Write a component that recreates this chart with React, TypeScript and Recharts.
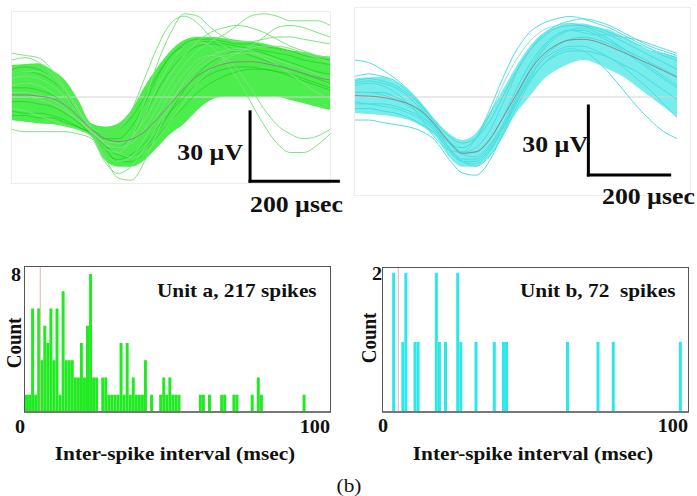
import type React from "react";
import {
  ComposedChart,
  Area,
  Line,
  XAxis,
  YAxis,
  ReferenceLine,
  BarChart,
  Bar,
} from "recharts";

const FONT = '"Liberation Serif", "Times New Roman", serif';
const STRETCH = 1.12;

// ---- spike waveforms, unit a (µV, one sample every 30 µs)
const timesA = [0, 30, 60, 90, 120, 150, 180, 210, 240, 270, 300, 330, 360, 390, 420, 450, 480, 510, 540, 570, 600, 630, 660, 690, 720];
const meanA = [0.9, 0.9, 0.4, -0.6, -3.5, -8.5, -14.0, -17.9, -19.3, -18.3, -15.0, -9.2, -2.7, 3.8, 9.1, 12.4, 14.3, 15.2, 15.3, 14.6, 13.4, 12.0, 10.3, 8.5, 7.4];
const coreLowA = [-10.0, -10.7, -11.4, -11.7, -12.8, -14.3, -17.2, -27.3, -30.2, -30.2, -27.3, -21.5, -15.7, -11.4, -5.6, -1.3, 0.1, 0.1, 0.1, 0.1, 0.1, -1.3, -2.7, -4.2, -5.6];
const coreHighA = [13.9, 14.3, 14.6, 11.7, 7.4, -1.3, -11.5, -12.8, -11.4, -5.6, 4.5, 13.1, 20.3, 24.7, 26.1, 26.1, 25.4, 24.7, 24.0, 23.2, 21.8, 20.3, 19.6, 18.2, 17.5];
// outlying single spikes (faint)
const tracesA = [
  [16, 17, 15, 10, 3, -6, -15, -22, -24, -18, -2, 15, 28, 36, 35, 30, 26, 24, 24, 25, 26, 26, 25, 24, 23],
  [8, 9, 8, 5, 0, -7, -14, -20, -22, -20, -14, -4, 6, 14, 20, 24, 27, 31, 35, 36, 35, 33, 33, 33, 31],
  [5, 6, 5, 2, -3, -9, -15, -20, -22, -18, -8, 5, 15, 22, 24, 22, 16, 8, -2, -12, -20, -24, -24, -21, -16],
  [-5, -6, -8, -10, -12, -14, -17, -26, -35, -36, -28, -15, -3, 7, 14, 18, 20, 21, 20, 18, 16, 14, 12, 10, 8],
  [19, 18, 17, 12, 4, -5, -14, -19, -20, -17, -10, 0, 10, 18, 24, 28, 30, 31, 30, 28, 25, 22, 20, 18, 17],
  [-14, -15, -15, -15, -15, -16, -18, -28, -33, -30, -22, -12, -2, 6, 12, 16, 18, 19, 19, 17, 14, 10, 6, 2, -1],
  [2, 2, 1, -1, -5, -10, -16, -24, -28, -26, -18, -8, 2, 10, 16, 18, 17, 12, 4, -5, -12, -16, -18, -17, -14],
  [10, 11, 11, 8, 2, -6, -13, -16, -14, -6, 8, 22, 32, 35, 32, 26, 22, 20, 22, 26, 30, 31, 30, 28, 26],
  [0, 0, -1, -3, -6, -10, -15, -20, -24, -26, -24, -18, -10, -2, 6, 12, 16, 19, 21, 22, 22, 21, 19, 17, 15],
];
// spikes inside the dense core
const innerA = [
  [10, 11, 10, 7, 2, -6, -14, -18, -18, -13, -3, 9, 18, 22, 24, 24, 23, 22, 21, 20, 19, 18, 16, 15, 14],
  [-6, -7, -7, -8, -10, -13, -16, -24, -27, -25, -20, -13, -6, 0, 6, 10, 12, 13, 13, 12, 11, 9, 7, 5, 3],
  [4, 4, 3, 1, -3, -9, -15, -21, -25, -26, -22, -15, -6, 3, 10, 15, 18, 20, 20, 19, 17, 15, 13, 11, 10],
  [-2, -2, -3, -4, -7, -11, -16, -22, -22, -17, -8, 3, 12, 18, 22, 23, 22, 20, 18, 16, 14, 12, 10, 8, 6],
  [12, 13, 12, 8, 2, -7, -14, -16, -14, -9, 0, 10, 18, 23, 25, 25, 24, 23, 23, 22, 21, 20, 18, 17, 16],
  [-8, -8, -9, -9, -11, -13, -16, -22, -28, -28, -24, -17, -10, -4, 2, 6, 9, 11, 12, 12, 11, 10, 8, 6, 4],
];

// ---- spike waveforms, unit b (µV, one sample every 33 µs)
const timesB = [0, 33, 66, 99, 132, 165, 198, 231, 264, 297, 330, 363, 396, 429, 462, 495, 528, 561, 594, 627, 660, 693, 726, 759, 792];
const meanB = [0.6, 0.4, -0.1, -1.3, -3.0, -6.4, -12.2, -19.4, -24.5, -23.8, -18.7, -9.3, 0.9, 11.0, 18.3, 22.6, 24.8, 25.1, 24.1, 21.9, 19.4, 16.8, 14.2, 11.4, 8.6];
const coreLowB = [-7.1, -7.4, -7.8, -8.6, -10.0, -12.8, -17.2, -25.9, -30.3, -30.3, -25.9, -17.2, -7.1, 0.1, 7.4, 11.7, 14.6, 16.1, 14.6, 11.7, 8.8, 4.5, 0.1, -4.2, -8.6];
const coreHighB = [8.1, 8.6, 8.8, 6.7, 3.0, -2.8, -10.0, -15.8, -18.7, -15.8, -7.1, 3.0, 13.2, 21.9, 27.7, 30.6, 32.0, 32.0, 30.6, 29.1, 26.2, 23.3, 20.4, 19.0, 17.5];
const tracesB = [
  [16, 15, 12, 8, 3, -4, -12, -20, -24, -22, -15, -3, 10, 20, 27, 31, 33, 34, 33, 31, 28, 25, 22, 20, 18],
  [-10, -10, -11, -12, -13, -15, -19, -27, -33, -34, -28, -16, -3, 8, 16, 20, 22, 22, 20, 17, 13, 8, 3, -3, -9],
  [2, 2, 1, -1, -4, -8, -14, -22, -28, -30, -26, -17, -5, 6, 14, 19, 21, 20, 16, 10, 3, -4, -10, -15, -18],
  [5, 6, 5, 2, -3, -10, -18, -23, -24, -18, -6, 8, 20, 28, 32, 34, 35, 34, 32, 30, 27, 24, 21, 18, 16],
  [-3, -3, -4, -5, -7, -10, -15, -22, -28, -29, -24, -14, -1, 11, 20, 26, 29, 30, 28, 25, 21, 17, 13, 9, 5],
  [9, 10, 9, 7, 2, -5, -13, -20, -25, -26, -21, -12, 0, 12, 21, 27, 29, 28, 27, 27, 26, 25, 23, 21, 19],
];
const innerB = [
  [6, 7, 6, 4, 0, -6, -13, -20, -22, -18, -8, 5, 16, 24, 29, 31, 32, 31, 29, 27, 24, 21, 18, 15, 12],
  [-5, -5, -6, -7, -9, -12, -16, -23, -28, -28, -23, -14, -3, 7, 14, 18, 20, 20, 19, 17, 14, 11, 7, 3, -1],
  [2, 2, 2, 0, -3, -7, -13, -19, -24, -24, -19, -9, 3, 14, 22, 27, 29, 29, 27, 24, 21, 18, 15, 12, 9],
  [-2, -3, -3, -4, -6, -9, -14, -22, -27, -27, -22, -13, -2, 9, 17, 22, 25, 26, 25, 23, 20, 16, 12, 8, 4],
  [7, 8, 7, 5, 1, -4, -11, -17, -20, -18, -11, 0, 11, 20, 26, 30, 31, 31, 30, 28, 26, 23, 21, 19, 17],
];

// ---- inter-spike interval histograms, 1 ms bins from 0 to 100 ms
const isiBins = Array.from({ length: 100 }, (_, i) => i);
const isiEdgeLabels = ["0", "100"];
const unitACounts = [
  1, 1, 6, 1, 6, 3, 5, 4, 6, 3,
  6, 1, 7, 3, 3, 3, 2, 2, 4, 2,
  5, 8, 2, 2, 0, 2, 2, 1, 1, 1,
  1, 4, 1, 4, 1, 2, 1, 1, 1, 3,
  0, 1, 0, 0, 1, 2, 1, 2, 1, 1,
  1, 0, 0, 0, 0, 0, 0, 1, 1, 0,
  1, 0, 0, 0, 1, 1, 0, 0, 1, 1,
  0, 0, 0, 0, 1, 0, 2, 1, 0, 0,
  0, 0, 0, 0, 0, 0, 0, 0, 0, 0,
  0, 1, 0, 0, 0, 0, 0, 0, 0, 0,
];
const unitBCounts = [
  0, 0, 0, 2, 0, 0, 1, 2, 0, 0,
  1, 1, 0, 0, 0, 0, 0, 2, 1, 0,
  1, 0, 0, 0, 2, 1, 0, 0, 0, 0,
  1, 0, 0, 0, 0, 0, 1, 0, 0, 1,
  1, 0, 0, 0, 0, 0, 0, 0, 0, 0,
  0, 0, 0, 0, 0, 0, 0, 0, 0, 0,
  1, 0, 0, 0, 0, 0, 0, 0, 0, 0,
  1, 0, 0, 0, 0, 1, 0, 0, 0, 0,
  0, 0, 0, 0, 0, 0, 0, 0, 0, 0,
  0, 0, 0, 0, 0, 0, 0, 1, 0, 0,
];

type WaveProps = {
  times: number[];
  mean: number[];
  low: number[];
  high: number[];
  traces: number[][];
  inner: number[][];
  xDomain: [number, number];
  yDomain: [number, number];
  bandColor: string;
  bandOpacity: number;
  traceColor: string;
  innerColor: string;
  barX: number;
  barY: number;
  width: number;
  height: number;
};

const WavePanel: React.FC<WaveProps> = (p) => {
  const rows = p.times.map((t, i) => {
    const row: Record<string, any> = { t, mean: p.mean[i], band: [p.low[i], p.high[i]] };
    p.traces.forEach((tr, k) => {
      row[`s${k}`] = tr[i];
    });
    p.inner.forEach((tr, k) => {
      row[`c${k}`] = tr[i];
    });
    return row;
  });
  const bar = { stroke: "#000", strokeWidth: 3, strokeLinecap: "square" as const, ifOverflow: "visible" as const };
  return (
    <ComposedChart
      width={p.width + 14}
      height={p.height + 4}
      data={rows}
      margin={{ top: 0, right: 14, bottom: 4, left: 0 }}
    >
      <XAxis dataKey="t" type="number" domain={p.xDomain} allowDataOverflow hide />
      <YAxis type="number" domain={p.yDomain} allowDataOverflow hide />
      <ReferenceLine y={0} stroke="#d4d4d4" />
      <Area
        dataKey="band"
        type="monotone"
        fill={p.bandColor}
        fillOpacity={p.bandOpacity}
        stroke="none"
        isAnimationActive={false}
      />
      {p.inner.map((_, k) => (
        <Line
          key={`c${k}`}
          dataKey={`c${k}`}
          type="monotone"
          stroke={p.innerColor}
          strokeOpacity={0.55}
          strokeWidth={1}
          dot={false}
          isAnimationActive={false}
        />
      ))}
      {p.traces.map((_, k) => (
        <Line
          key={`s${k}`}
          dataKey={`s${k}`}
          type="monotone"
          stroke={p.traceColor}
          strokeWidth={1}
          dot={false}
          isAnimationActive={false}
        />
      ))}
      <Line dataKey="mean" type="monotone" stroke="#8a8a8a" strokeWidth={1} dot={false} isAnimationActive={false} />
      <ReferenceLine segment={[{ x: p.barX, y: p.barY }, { x: p.barX, y: p.barY + 30 }]} {...bar} />
      <ReferenceLine segment={[{ x: p.barX, y: p.barY }, { x: p.barX + 200, y: p.barY }]} {...bar} />
    </ComposedChart>
  );
};

// only the first and last bin carry a label: 0 at the left edge, 100 at the right edge of the plot
const EdgeTick = (props: any) => {
  const { x, y, index, zeroDx, plotRight } = props;
  if (index !== 0 && index !== isiBins.length - 1) return null;
  const first = index === 0;
  return (
    <text
      transform={`translate(${first ? x + zeroDx : plotRight},${y + 15}) scale(${STRETCH},1)`}
      textAnchor={first ? "middle" : "end"}
      dominantBaseline="central"
      fontFamily={FONT}
      fontWeight="bold"
      fontSize={18}
      fill="#111"
    >
      {first ? isiEdgeLabels[0] : isiEdgeLabels[1]}
    </text>
  );
};

const CountTick = (props: any) => {
  const { x, y, payload, dx } = props;
  return (
    <text
      transform={`translate(${x + dx},${y + 1}) scale(${STRETCH},1)`}
      textAnchor="end"
      dominantBaseline="central"
      fontFamily={FONT}
      fontWeight="bold"
      fontSize={18}
      fill="#111"
    >
      {payload.value}
    </text>
  );
};

type HistProps = {
  counts: number[];
  color: string;
  maxCount: number;
  yTop: number;
  width: number;
  marginTop: number;
  marginRight: number;
  marginBottom: number;
  zeroDx: number;
  tickDx: number;
};

const IsiHistogram: React.FC<HistProps> = (p) => {
  const rows = isiBins.map((bin, i) => ({ bin, count: p.counts[i] }));
  const plotRight = p.width - p.marginRight;
  return (
    <BarChart
      width={p.width}
      height={200}
      data={rows}
      margin={{ top: p.marginTop, right: p.marginRight, bottom: p.marginBottom, left: 0 }}
      barCategoryGap={0}
      barGap={0}
    >
      <XAxis
        dataKey="bin"
        interval={0}
        axisLine={false}
        tickLine={false}
        tickSize={0}
        tickMargin={0}
        height={30}
        tick={(t: any) => <EdgeTick {...t} zeroDx={p.zeroDx} plotRight={plotRight} />}
      />
      <YAxis
        type="number"
        domain={[0, p.yTop]}
        allowDataOverflow
        ticks={[p.maxCount]}
        width={25}
        axisLine={false}
        tickLine={false}
        tickSize={0}
        tickMargin={0}
        tick={(t: any) => <CountTick {...t} dx={p.tickDx} />}
      />
      <Bar dataKey="count" fill={p.color} isAnimationActive={false} />
      <ReferenceLine x={5} position="start" stroke="#e2b2b2" strokeWidth={1} />
    </BarChart>
  );
};

type TxtProps = {
  x: number;
  y: number;
  anchor?: "start" | "middle" | "end";
  size?: number;
  bold?: boolean;
  rotate?: boolean;
  children: React.ReactNode;
};

const Txt: React.FC<TxtProps> = ({ x, y, anchor = "start", size = 19, bold = true, rotate = false, children }) => {
  const tx = anchor === "start" ? "0" : anchor === "middle" ? "-50%" : "-100%";
  const origin = anchor === "start" ? "left center" : anchor === "middle" ? "center" : "right center";
  return (
    <div
      style={{
        position: "absolute",
        left: x,
        top: y,
        transform: rotate
          ? `translate(-50%, -50%) rotate(-90deg) scale(1, ${STRETCH})`
          : `translate(${tx}, -50%) scale(${STRETCH}, 1)`,
        transformOrigin: rotate ? "center" : origin,
        fontFamily: FONT,
        fontWeight: bold ? "bold" : "normal",
        fontSize: size,
        lineHeight: 1,
        whiteSpace: "pre",
        color: "#111",
      }}
    >
      {children}
    </div>
  );
};

const box = (left: number, top: number, width: number, height: number, border: string): React.CSSProperties => ({
  position: "absolute",
  left,
  top,
  width,
  height,
  boxSizing: "border-box",
  border,
  pointerEvents: "none",
});

export default function App() {
  return (
    <div
      style={{
        position: "absolute",
        left: 0,
        top: 0,
        width: 697,
        height: 496,
        background: "#fff",
        overflow: "hidden",
      }}
    >
      {/* waveform panels */}
      <div style={box(11, 11, 320, 173, "1px solid #ececec")} />
      <div style={box(354, 7, 337, 189, "1px solid #ececec")} />
      <div style={{ position: "absolute", left: 12, top: 12 }}>
        <WavePanel
          times={timesA}
          mean={meanA}
          low={coreLowA}
          high={coreHighA}
          traces={tracesA}
          inner={innerA}
          xDomain={[0, 720]}
          yDomain={[-37.2, 36.8]}
          bandColor="#33ea33"
          bandOpacity={0.88}
          traceColor="#7fe37f"
          innerColor="#14c814"
          barX={539}
          barY={-36.4}
          width={318}
          height={171}
        />
      </div>
      <div style={{ position: "absolute", left: 355, top: 8 }}>
        <WavePanel
          times={timesB}
          mean={meanB}
          low={coreLowB}
          high={coreHighB}
          traces={tracesB}
          inner={innerB}
          xDomain={[0, 792]}
          yDomain={[-42.6, 38.7]}
          bandColor="#42e4e4"
          bandOpacity={0.72}
          traceColor="#4fdede"
          innerColor="#1fd0d0"
          barX={574}
          barY={-33.9}
          width={322}
          height={187}
        />
      </div>
      <Txt x={243} y={152} anchor="end" size={23}>30 µV</Txt>
      <Txt x={250} y={204} size={23}>200 µsec</Txt>
      <Txt x={588} y={144} anchor="end" size={23}>30 µV</Txt>
      <Txt x={602} y={196} size={23}>200 µsec</Txt>

      {/* ISI histograms */}
      <div style={{ position: "absolute", left: 0, top: 255 }}>
        <IsiHistogram
          counts={unitACounts}
          color="#22ea22"
          maxCount={8}
          yTop={8.4}
          width={345}
          marginTop={12}
          marginRight={15}
          marginBottom={13}
          zeroDx={-6.5}
          tickDx={-4}
        />
      </div>
      <div style={{ position: "absolute", left: 358, top: 255 }}>
        <IsiHistogram
          counts={unitBCounts}
          color="#2de8ea"
          maxCount={2}
          yTop={2.07}
          width={339}
          marginTop={13}
          marginRight={9}
          marginBottom={14}
          zeroDx={-1.5}
          tickDx={-1}
        />
      </div>
      <div style={{ ...box(24, 266, 307, 147, "1px solid #555"), borderBottom: "2px solid #777" }} />
      <div style={{ ...box(382, 267, 307, 146, "1px solid #555"), borderBottom: "2px solid #777" }} />

      <Txt x={157} y={290}>Unit a, 217 spikes</Txt>
      <Txt x={520} y={290}>Unit b, 72  spikes</Txt>
      <Txt x={13.5} y={343} rotate>Count</Txt>
      <Txt x={368.5} y={338} rotate>Count</Txt>
      <Txt x={175} y={453} anchor="middle">Inter-spike interval (msec)</Txt>
      <Txt x={533} y={453} anchor="middle">Inter-spike interval (msec)</Txt>
      <Txt x={349} y={485} anchor="middle" bold={false}>(b)</Txt>
    </div>
  );
}
